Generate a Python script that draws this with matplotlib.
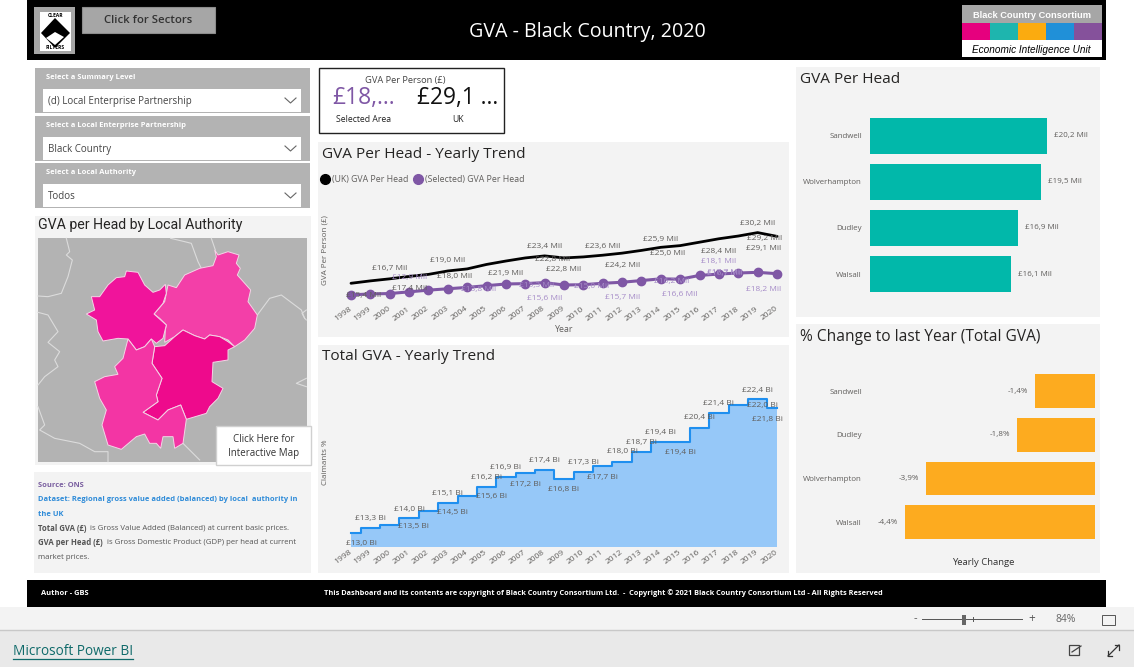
import matplotlib
matplotlib.use("Agg")
import matplotlib.pyplot as plt
from matplotlib.patches import Rectangle, Polygon
from matplotlib.lines import Line2D

plt.rcParams['font.family'] = ['Open Sans', 'DejaVu Sans']

W, H = 1134, 667
years = list(range(1998, 2021))
uk_per_head = [15.4, 16.1, 16.7, 17.4, 18.0, 19.0, 19.6, 20.9, 21.9, 22.8, 23.4, 22.8, 23.1, 23.6, 24.2, 25.0, 25.9, 26.4, 27.4, 28.4, 29.2, 30.2, 29.1]
selected_per_head = [12.0, 12.3, 12.4, 12.9, 13.4, 13.8, 14.2, 14.7, 15.2, 15.3, 15.6, 14.9, 15.0, 15.4, 15.7, 16.2, 16.7, 16.6, 17.7, 18.1, 18.4, 18.6, 18.2]
total_gva = [13.0, 13.3, 13.5, 14.0, 14.5, 15.1, 15.6, 16.2, 16.9, 17.2, 17.4, 16.8, 17.3, 17.7, 18.0, 18.7, 19.4, 19.4, 20.4, 21.4, 22.0, 22.4, 21.8]
head_areas = ['Sandwell', 'Wolverhampton', 'Dudley', 'Walsall']
head_values = [20.2, 19.5, 16.9, 16.1]
change_areas = ['Sandwell', 'Dudley', 'Wolverhampton', 'Walsall']
change_values = [-1.4, -1.8, -3.9, -4.4]
kpi_selected = '£18,...'
kpi_uk = '£29,1 ...'

# label placement: year, dx, dy (pixels from the mark)
uk_labels = [(1998, 13, -12), (2000, 0, 10), (2001, 0, -12), (2002, 26, -2), (2003, 0, 10), (2006, 0, -12),
             (2007, 27, -2), (2008, 0, 9), (2009, 0, -12), (2011, 0, 9), (2012, 0, -12), (2013, 26, -3),
             (2014, 0, 8), (2017, 0, -13), (2018, 26, -2), (2019, 0, 9), (2020, -13, -12)]
sel_labels = [(2001, 0, 14), (2003, 31, -1), (2007, 11, -2), (2008, 0, -16), (2010, 8, -2), (2012, 0, -15),
              (2013, 30, -1), (2014, 64, 5), (2015, 0, -15), (2016, 25, 3), (2017, 0, 13), (2020, -13, -16)]
tot_labels = [(1998, 10, -11), (1999, 0, 10), (2000, 24, -1), (2001, 0, 9), (2002, 24, -1), (2003, 0, 9),
              (2004, 24, -1), (2005, 0, 10), (2006, 0, 10), (2007, 0, -12), (2008, 0, 10), (2009, 0, -11),
              (2010, 0, 9), (2011, 0, -12), (2012, 0, 10), (2013, 0, 9), (2014, 0, 9), (2015, 0, -11),
              (2016, 0, 10), (2017, 0, 10), (2018, 24, -1), (2019, 0, 9), (2020, -10, -12)]

PANEL = '#f3f3f3'
GREY = '#605e5c'
PURPLE = '#7f57a5'

fig = plt.figure(figsize=(W / 100, H / 100), dpi=100, facecolor='white')
bg = fig.add_axes([0, 0, 1, 1], zorder=0)
bg.set_xlim(0, W)
bg.set_ylim(H, 0)
bg.axis('off')


def box(x0, y0, x1, y1, fc, ec='none', lw=0, z=1):
    bg.add_patch(Rectangle((x0, y0), x1 - x0, y1 - y0, fc=fc, ec=ec, lw=lw, zorder=z))


def T(x, y, s, size=7, color='#333333', ha='left', va='center', z=5, **kw):
    if not kw.get('rotation'):
        y = y + size * 0.17
    return bg.text(x, y, s, fontsize=size, color=color, ha=ha, va=va, zorder=z, **kw)


def px_axes(l, t, r, b):
    ax = fig.add_axes([l / W, 1 - b / H, (r - l) / W, (b - t) / H], zorder=2)
    ax.patch.set_alpha(0)
    for s in ax.spines.values():
        s.set_visible(False)
    return ax


# page bands
box(27, 0, 1106, 60, '#000000')
box(27, 580, 1106, 607, '#000000')
box(0, 607, W, 630, '#f3f3f3')
box(0, 630, W, H, '#e9e9e9')
bg.plot([0, W], [630, 630], color='#c8c8c8', lw=1, zorder=2)

# panels
for p in [(35, 216, 311, 465), (318, 142, 789, 337), (318, 345, 789, 573), (34, 472, 311, 573),
          (796, 67, 1100, 317), (796, 324, 1100, 573)]:
    box(*p, PANEL)

# header
box(34, 7, 75, 54, '#a6a6a6')
box(40, 12, 71, 51, 'white', z=2)
bg.add_patch(Polygon([(55, 18), (70, 33), (55, 48), (41, 33)], fc='black', zorder=3))
bg.add_patch(Polygon([(55, 32), (64, 37), (55, 45), (46, 38)], fc='white', zorder=4))
T(55.5, 14.5, 'CLEAR', 3.6, 'black', ha='center', fontweight='bold')
T(55.5, 46.5, 'FILTERS', 3.6, 'black', ha='center', fontweight='bold')
box(82, 7, 215, 33, '#a6a6a6', ec='#8c8c8c', lw=0.8)
T(148.5, 19.5, 'Click for Sectors', 8.2, '#333333', ha='center', fontweight='semibold')
T(587, 30, 'GVA - Black Country, 2020', 14.1, 'white', ha='center')
box(962, 5, 1102, 23, '#a6a6a6')
T(1032, 14, 'Black Country Consortium', 6.7, 'white', ha='center', fontweight='bold', family='Liberation Sans')
for i, c in enumerate(['#e6007e', '#1eb5ae', '#fbab0f', '#2090d8', '#85519b']):
    box(962 + 28 * i, 23, 990 + 28 * i, 40, c)
box(962, 40, 1102, 57, 'white')
T(972, 49, 'Economic Intelligence Unit', 7.2, 'black', fontstyle='italic', family='Liberation Sans')

# slicers
slicers = [(68, 113, 76.5, 89, 112, 'Select a Summary Level', '(d) Local Enterprise Partnership'),
           (116, 161, 124.5, 137, 160, 'Select a Local Enterprise Partnership', 'Black Country'),
           (163, 208, 171.5, 184, 207, 'Select a Local Authority', 'Todos')]
for t, b, ly, wt, wb, lab, val in slicers:
    box(35, t, 310, b, '#b3b3b3')
    box(43, wt, 301, wb, 'white', z=2)
    T(46, ly, lab, 5.4, 'white', fontweight='bold')
    T(48, (wt + wb) / 2, val, 7, '#444444')
    m = (wt + wb) / 2
    bg.plot([285, 290.5, 296], [m - 2.5, m + 2.5, m - 2.5], color='#666666', lw=0.8, zorder=5)

# KPI card
box(319, 68, 504, 133, 'white', ec='#222222', lw=1)
T(405, 79, 'GVA Per Person (£)', 6.7, '#444444', ha='center')
T(364, 95, kpi_selected, 16.5, PURPLE, ha='center')
T(458, 95, kpi_uk, 16.3, '#111111', ha='center')
T(364, 118.5, 'Selected Area', 6.2, '#222222', ha='center')
T(458, 118.5, 'UK', 6.2, '#222222', ha='center')

# map
T(38, 223, 'GVA per Head by Local Authority', 10.2, '#252423', family='Roboto')
box(38, 238, 307, 462, '#b3b3b3', z=2)


def mp(pts):
    return [(28 + x / 3, 235 + y / 3) for x, y in pts]


boundaries = [
    [(115, 10), (125, 50), (115, 60), (133, 75), (120, 125), (100, 175), (60, 185), (30, 183)],
    [(30, 232), (60, 240), (90, 290), (60, 322), (95, 350), (80, 375), (90, 395), (50, 425), (30, 450)],
    [(428, 10), (470, 20), (490, 25), (510, 80), (520, 100)],
    [(550, 10), (562, 45)],
    [(30, 515), (50, 570), (35, 585), (80, 610), (155, 625), (200, 650), (240, 650), (240, 680)],
    [(465, 625), (490, 650), (515, 675)],
    [(688, 240), (725, 190), (760, 180), (820, 225), (830, 250), (835, 255)],
    [(835, 225), (822, 235), (830, 250)],
    [(835, 430), (805, 445), (835, 455)],
]
for b in boundaries:
    xs, ys = zip(*mp(b))
    bg.plot(xs, ys, color='#dcdcdc', lw=0.8, zorder=3)
regions = [
    ('#f33fa8', [(560, 45), (570, 60), (600, 50), (633, 60), (625, 85), (637, 100), (628, 120), (668, 165), (660, 200), (688, 240), (680, 280), (650, 315), (620, 335), (600, 315), (575, 305), (545, 300), (530, 312), (500, 302), (465, 285), (440, 305), (410, 322), (412, 285), (415, 270), (395, 250), (378, 237), (410, 200), (420, 150), (445, 158), (470, 120), (515, 100), (555, 92), (565, 65)]),
    ('#f0149b', [(295, 108), (330, 112), (350, 150), (375, 172), (395, 165), (412, 148), (415, 175), (405, 205), (378, 237), (415, 270), (405, 310), (385, 325), (370, 312), (350, 335), (325, 345), (300, 312), (270, 310), (225, 318), (210, 290), (205, 255), (175, 237), (200, 225), (190, 185), (215, 185), (240, 150), (265, 128), (290, 125)]),
    ('#ee0a8c', [(465, 285), (500, 302), (530, 312), (545, 300), (575, 305), (600, 320), (620, 335), (600, 345), (600, 375), (555, 382), (552, 440), (585, 460), (570, 490), (545, 515), (535, 535), (475, 553), (458, 510), (420, 525), (390, 555), (345, 532), (390, 500), (385, 480), (402, 430), (372, 385), (380, 335), (410, 332), (440, 305)]),
    ('#f335a4', [(300, 312), (325, 345), (350, 335), (370, 312), (380, 335), (372, 385), (402, 430), (385, 480), (390, 500), (345, 532), (390, 555), (420, 525), (458, 510), (475, 553), (465, 625), (440, 640), (435, 605), (405, 605), (398, 640), (385, 625), (365, 625), (350, 597), (325, 605), (280, 643), (240, 630), (222, 570), (235, 525), (215, 490), (200, 440), (230, 425), (270, 418), (260, 395), (285, 370)]),
]
for c, r in regions:
    bg.add_patch(Polygon(mp(r), fc=c, ec='#f4d4e6', lw=0.7, zorder=4))
box(216, 426, 311, 465, 'white', ec='#d0d0d0', lw=1, z=6)
T(263.5, 438.5, 'Click Here for', 7, '#333333', ha='center', z=7)
T(263.5, 452.5, 'Interactive Map', 7, '#333333', ha='center', z=7)

# notes
renderer = fig.canvas.get_renderer()


def rich(y, parts, size=5.6):
    x = 38
    for s, color, weight in parts:
        t = T(x, y, s, size, color, fontweight=weight)
        ext = t.get_window_extent(renderer)
        x += ext.width + (2.0 if s.endswith(' ') else 0)


rich(485, [('Source: ONS', '#7a5fa0', 'bold')], 5.4)
rich(499, [('Dataset: Regional gross value added (balanced) by local  authority in', '#2e8bd8', 'bold')], 5.4)
rich(514, [('the UK', '#2e8bd8', 'bold')], 5.4)
rich(528, [('Total GVA (£) ', '#555555', 'bold'), ('is Gross Value Added (Balanced) at current basic prices.', '#555555', 'normal')])
rich(542, [('GVA per Head (£) ', '#555555', 'bold'), ('is Gross Domestic Product (GDP) per head at current', '#555555', 'normal')])
rich(557, [('market prices.', '#555555', 'normal')])

# footer
T(41, 592.5, 'Author - GBS', 5.4, 'white', fontweight='bold')
T(603.5, 592.5, 'This Dashboard and its contents are copyright of Black Country Consortium Ltd.  -  Copyright © 2021 Black Country Consortium Ltd - All Rights Reserved',
  5.3, 'white', ha='center', fontweight='bold')

# bottom bar
T(13, 650, 'Microsoft Power BI', 9.8, '#0f6a6a')
bg.plot([13, 133], [659, 659], color='#0f6a6a', lw=0.9, zorder=5)
T(915.5, 617, '-', 8, '#555555', ha='center')
bg.plot([922, 1022], [619, 619], color='#555555', lw=0.7, zorder=5)
box(962, 615, 966, 625, '#666666', z=6)
bg.plot([973, 973], [617, 621], color='#555555', lw=0.7, zorder=5)
T(1032, 617, '+', 8.5, '#555555', ha='center')
T(1066, 618, '84%', 7.5, '#666666', ha='center')
box(1102, 615, 1115, 625, 'none', ec='#555555', lw=0.7, z=6)
bg.add_patch(Rectangle((1069, 645), 10, 10, fc='none', ec='#444444', lw=0.9, zorder=5))
bg.plot([1072, 1081], [652, 646], color='#444444', lw=0.9, zorder=6)
bg.plot([1108, 1119], [656, 645], color='#333333', lw=0.9, zorder=5)
bg.plot([1108, 1108, 1112], [651, 656, 656], color='#333333', lw=0.9, zorder=5)
bg.plot([1115, 1119, 1119], [645, 645, 650], color='#333333', lw=0.9, zorder=5)

# panel titles
T(321.5, 152.5, 'GVA Per Head - Yearly Trend', 11.1, '#252423')
T(321.5, 354.5, 'Total GVA - Yearly Trend', 11.1, '#252423')
T(800, 77.5, 'GVA Per Head', 11.1, '#252423')
T(800, 335.5, '% Change to last Year (Total GVA)', 11.2, '#252423')


def fmt(v, unit):
    return f'£{v:.1f} {unit}'.replace('.', ',')


def style_years(ax, pad):
    ax.set_xlim(1998 - 12 / 19.36, 2020 + 12 / 19.36)
    ax.set_xticks(years)
    ax.set_xticklabels(years, rotation=36, ha='right', va='center', rotation_mode='anchor', fontsize=6.1, color=GREY)
    ax.tick_params(axis='x', length=0, pad=pad)
    ax.set_yticks([])


def add_labels(ax, series, labels, unit, color):
    for y, dx, dy in labels:
        v = series[years.index(y)]
        ax.annotate(fmt(v, unit), (y, v), xytext=(dx * 0.72, dy * 0.72), textcoords='offset points',
                    ha='center', va='center', fontsize=6, color=color, zorder=6, annotation_clip=False)


# GVA per head trend
ax1 = px_axes(339, 210, 789, 304)
style_years(ax1, 2.9)
ax1.set_ylim(9.35, 36.8)
ax1.plot(years, uk_per_head, color='black', lw=2.0, solid_capstyle='round')
ax1.plot(years, selected_per_head, color=PURPLE, lw=2.2, marker='o', ms=6)
add_labels(ax1, uk_per_head, uk_labels, 'Mil', GREY)
add_labels(ax1, selected_per_head, sel_labels, 'Mil', '#a68cc8')
fig.legend(handles=[Line2D([], [], color='black', marker='o', ms=7, ls='none', label='(UK) GVA Per Head'),
                    Line2D([], [], color=PURPLE, marker='o', ms=7, ls='none', label='(Selected) GVA Per Head')],
           loc='center left', bbox_to_anchor=(316 / W, 1 - 180 / H), ncols=2, frameon=False, fontsize=6.3,
           labelcolor=GREY, handletextpad=-0.2, columnspacing=0.1, borderpad=0, borderaxespad=0)
T(325.5, 250, 'GVA Per Person (£)', 5.8, GREY, ha='center', rotation=90, z=5)
T(564, 328, 'Year', 6.3, GREY, ha='center')

# total GVA trend
ax2 = px_axes(339, 360, 789, 546.7)
style_years(ax2, 3.6)
ax2.set_ylim(12.0, 25.17)
ax2.fill_between(years, total_gva, 12.0, step='mid', color='#96c8f8', lw=0)
ax2.step(years, total_gva, where='mid', color='#1f8fef', lw=1.5)
add_labels(ax2, total_gva, tot_labels, 'Bi', GREY)
T(325.5, 462, 'Claimants %', 5.8, GREY, ha='center', rotation=90)

# GVA per head bars
ax3 = px_axes(870, 111, 1100, 300)
ax3.barh(range(4), head_values, height=0.772, color='#01b8aa')
ax3.set_xlim(0, 26.2)
ax3.set_ylim(3.565, -0.543)
ax3.set_yticks(range(4), head_areas, fontsize=5.7, color=GREY)
ax3.set_xticks([])
ax3.tick_params(axis='y', length=0, pad=5.8)
ax3.bar_label(ax3.containers[0], labels=[fmt(v, 'Mil') for v in head_values], padding=5, fontsize=5.8, color=GREY)

# change bars
ax4 = px_axes(870, 366, 1095.3, 547)
ax4.barh(range(4), change_values, height=0.772, color='#fdab1f')
ax4.set_xlim(-5.2, 0)
ax4.set_ylim(3.57, -0.5725)
ax4.set_yticks(range(4), change_areas, fontsize=5.7, color=GREY)
ax4.set_xticks([])
ax4.tick_params(axis='y', length=0, pad=5.8)
ax4.bar_label(ax4.containers[0], labels=[f'{v:.1f}%'.replace('.', ',') for v in change_values], padding=5, fontsize=5.8, color=GREY)
T(983, 561, 'Yearly Change', 6.8, '#333333', ha='center')

fig.savefig('out.png', dpi=100)
